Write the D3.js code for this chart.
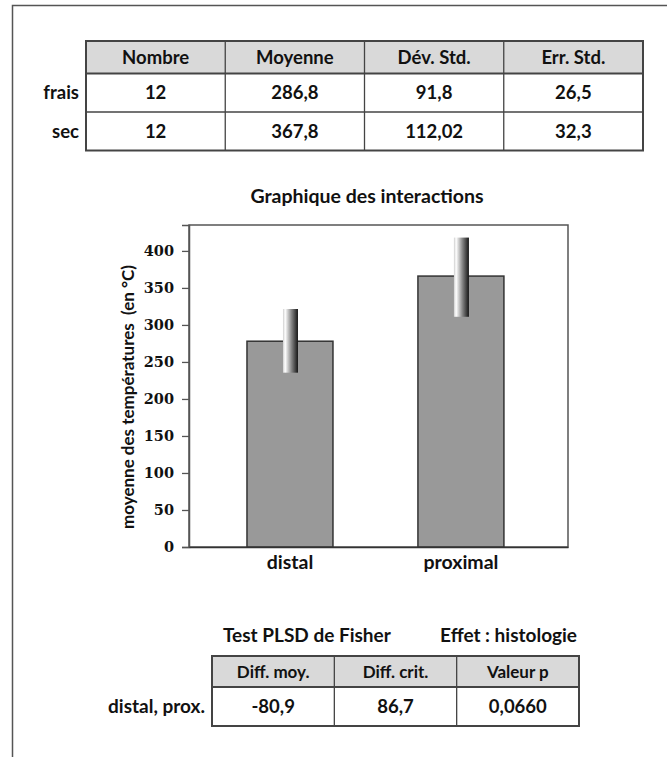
<!DOCTYPE html>
<html>
<head>
<meta charset="utf-8">
<script src="https://cdn.jsdelivr.net/npm/d3@7"></script>
<style>
  html, body { margin: 0; padding: 0; background: #fff; }
  svg { display: block; }
  .sans { font-family: Lato, "Open Sans", sans-serif; font-weight: bold; fill: #111; }
  .serif { font-family: "DejaVu Serif", "Liberation Serif", serif; font-weight: bold; fill: #111; }
</style>
</head>
<body>
<script>
// ---------- data ----------
const summaryRows = ["frais", "sec"];
const summaryCols = ["Nombre", "Moyenne", "Dév. Std.", "Err. Std."];
const summaryFrais = ["12", "286,8", "91,8", "26,5"];
const summarySec = ["12", "367,8", "112,02", "32,3"];

const chartTitle = "Graphique des interactions";
const yLabel = "moyenne des températures  (en °C)";
const categories = ["distal", "proximal"];
const means = [278, 366];
const errLow = [235.5, 311];
const errHigh = [321.5, 418];
const yTicks = [0, 50, 100, 150, 200, 250, 300, 350, 400];
const yMax = 435;

const fisherTitle = "Test PLSD de Fisher";
const fisherEffect = "Effet : histologie";
const fisherCols = ["Diff. moy.", "Diff. crit.", "Valeur p"];
const fisherRowLabel = "distal, prox.";
const fisherValues = ["-80,9", "86,7", "0,0660"];

// ---------- canvas ----------
const W = 667, H = 757;
const svg = d3.select("body").append("svg").attr("width", W).attr("height", H);

// outer frame (top + left)
svg.append("path")
  .attr("d", "M12.5,757 L12.5,5.5 L667,5.5")
  .attr("fill", "none").attr("stroke", "#555").attr("stroke-width", 1.5);

// ---------- generic table ----------
function drawTable(g, opts) {
  const { x0, x1, yTop, headH, rowH, cols, rows, rowLabels, headSize, cellSize, labelSize } = opts;
  const xs = d3.scaleBand().domain(d3.range(cols.length)).range([x0, x1]);
  const yBottom = yTop + headH + rowH * rows.length;
  g.append("rect").attr("x", x0).attr("y", yTop).attr("width", x1 - x0).attr("height", headH)
    .attr("fill", "#d9d9d9");
  g.selectAll(null).data(cols).join("text").attr("class", "sans")
    .attr("x", (d, i) => xs(i) + xs.bandwidth() / 2)
    .attr("y", yTop + headH / 2).attr("dy", "0.36em")
    .attr("text-anchor", "middle").attr("font-size", headSize).text(d => d);
  rows.forEach((row, r) => {
    const cy = yTop + headH + rowH * r + rowH / 2;
    g.selectAll(null).data(row).join("text").attr("class", "sans")
      .attr("x", (d, i) => xs(i) + xs.bandwidth() / 2)
      .attr("y", cy).attr("dy", "0.36em")
      .attr("text-anchor", "middle").attr("font-size", cellSize).text(d => d);
    g.append("text").attr("class", "sans")
      .attr("x", x0 - 7).attr("y", cy).attr("dy", "0.36em")
      .attr("text-anchor", "end").attr("font-size", labelSize).text(rowLabels[r]);
  });
  const lineCol = "#444";
  const hy = [yTop + headH].concat(d3.range(1, rows.length).map(r => yTop + headH + rowH * r));
  hy.forEach((yy, i) => {
    g.append("line").attr("x1", x0).attr("x2", x1).attr("y1", yy).attr("y2", yy)
      .attr("stroke", lineCol).attr("stroke-width", i === 0 ? 2 : 1.3);
  });
  d3.range(1, cols.length).forEach(i => {
    g.append("line").attr("x1", xs(i)).attr("x2", xs(i)).attr("y1", yTop).attr("y2", yBottom)
      .attr("stroke", lineCol).attr("stroke-width", 1.3);
  });
  g.append("rect").attr("x", x0).attr("y", yTop).attr("width", x1 - x0).attr("height", yBottom - yTop)
    .attr("fill", "none").attr("stroke", lineCol).attr("stroke-width", 2);
}

drawTable(svg.append("g"), {
  x0: 86, x1: 643, yTop: 41, headH: 32.5, rowH: 38.5,
  cols: summaryCols, rows: [summaryFrais, summarySec], rowLabels: summaryRows,
  headSize: 18.5, cellSize: 18.5, labelSize: 18.5
});

// ---------- bar chart ----------
const plot = { left: 189, right: 568, top: 225, bottom: 547 };
const y = d3.scaleLinear().domain([0, yMax]).range([plot.bottom, plot.top]);
const x = d3.scaleBand().domain(categories).range([plot.left, plot.right])
  .paddingInner(0.497).paddingOuter(0.357).align(0.475);

const defs = svg.append("defs");
const grad = defs.append("linearGradient").attr("id", "errGrad")
  .attr("x1", "0%").attr("x2", "100%").attr("y1", "0%").attr("y2", "0%");
grad.append("stop").attr("offset", "0%").attr("stop-color", "#cfcfcf");
grad.append("stop").attr("offset", "15%").attr("stop-color", "#ffffff");
grad.append("stop").attr("offset", "55%").attr("stop-color", "#8a8a8a");
grad.append("stop").attr("offset", "100%").attr("stop-color", "#151515");

svg.append("text").attr("class", "sans")
  .attr("x", 367).attr("y", 203).attr("text-anchor", "middle")
  .attr("font-size", 19.5).text(chartTitle);

svg.append("rect").attr("x", plot.left).attr("y", plot.top)
  .attr("width", plot.right - plot.left).attr("height", plot.bottom - plot.top)
  .attr("fill", "none").attr("stroke", "#555").attr("stroke-width", 1.5);

svg.selectAll(".bar").data(categories).join("rect").attr("class", "bar")
  .attr("x", d => x(d)).attr("width", x.bandwidth())
  .attr("y", (d, i) => y(means[i])).attr("height", (d, i) => y(0) - y(means[i]))
  .attr("fill", "#999999").attr("stroke", "#333").attr("stroke-width", 1.5);

const errW = 15;
svg.selectAll(".err").data(categories).join("rect").attr("class", "err")
  .attr("x", d => x(d) + x.bandwidth() / 2 - errW / 2 + 0.5).attr("width", errW)
  .attr("y", (d, i) => y(errHigh[i])).attr("height", (d, i) => y(errLow[i]) - y(errHigh[i]))
  .attr("fill", "url(#errGrad)");

const yAxis = d3.axisLeft(y).tickValues(yTicks).tickSize(7).tickPadding(8).tickFormat(d3.format("d"));
const yg = svg.append("g").attr("transform", `translate(${plot.left},0)`).call(yAxis);
yg.select(".domain").attr("stroke", "#555").attr("stroke-width", 1.5);
yg.selectAll(".tick line").attr("stroke", "#555").attr("stroke-width", 1.3);
yg.selectAll(".tick text").attr("class", "serif").attr("font-size", 14.5).attr("fill", "#111");

const xAxis = d3.axisBottom(x).tickSize(0).tickPadding(8);
const xg = svg.append("g").attr("transform", `translate(0,${plot.bottom})`).call(xAxis);
xg.select(".domain").attr("stroke", "#333").attr("stroke-width", 1.5);
xg.selectAll(".tick text").attr("class", "sans").attr("font-size", 19.5).attr("fill", "#111");

svg.append("text").attr("class", "sans")
  .attr("transform", `translate(134,397) rotate(-90)`)
  .attr("text-anchor", "middle").attr("font-size", 17)
  .style("white-space", "pre").attr("xml:space", "preserve").text(yLabel);

// ---------- Fisher table ----------
svg.append("text").attr("class", "sans").attr("x", 223).attr("y", 642)
  .attr("font-size", 19).text(fisherTitle);
svg.append("text").attr("class", "sans").attr("x", 577).attr("y", 642)
  .attr("text-anchor", "end").attr("font-size", 19).text(fisherEffect);

drawTable(svg.append("g"), {
  x0: 212, x1: 579, yTop: 656, headH: 31, rowH: 39,
  cols: fisherCols, rows: [fisherValues], rowLabels: [fisherRowLabel],
  headSize: 17, cellSize: 18.5, labelSize: 19
});
</script>
</body>
</html>
